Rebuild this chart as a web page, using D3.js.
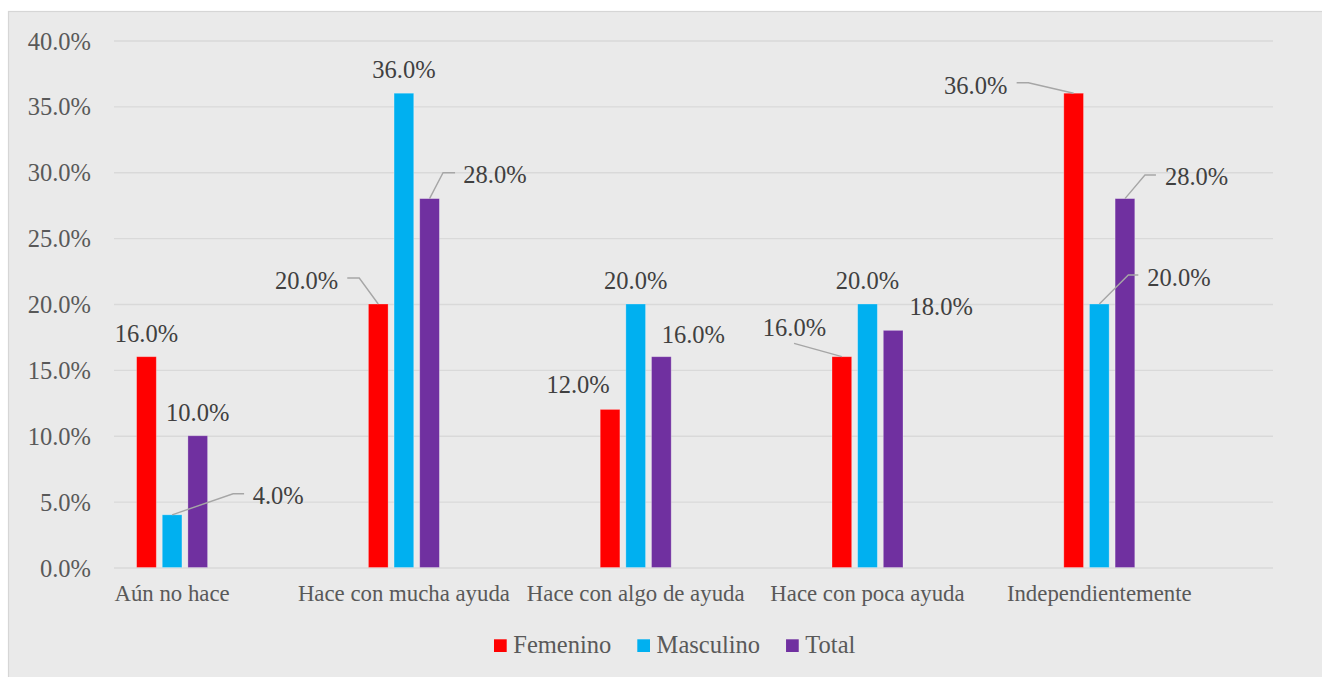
<!DOCTYPE html>
<html lang="es">
<head>
<meta charset="utf-8">
<title>Distribución por nivel de autonomía</title>
<script src="https://cdn.jsdelivr.net/npm/d3@7"></script>
<style>
  html, body { margin: 0; padding: 0; background: #ffffff; }
  svg { display: block; }
  text { font-family: "Liberation Serif", "Times New Roman", serif; }
</style>
</head>
<body>
<svg id="chart" width="1322" height="677"></svg>
<script>
// Categories and series values (share of children per level)
const categories = ["Aún no hace", "Hace con mucha ayuda", "Hace con algo de ayuda", "Hace con poca ayuda", "Independientemente"];
const seriesNames = ["Femenino", "Masculino", "Total"];
const femenino  = [0.16, 0.20, 0.12, 0.16, 0.36];
const masculino = [0.04, 0.36, 0.20, 0.20, 0.20];
const total     = [0.10, 0.28, 0.16, 0.18, 0.28];
const yTicks = [0, 0.05, 0.10, 0.15, 0.20, 0.25, 0.30, 0.35, 0.40];

const seriesValues = [femenino, masculino, total];
const colors = ["#ff0000", "#00b0f0", "#7030a0"];

const svg = d3.select("#chart");
const W = 1322, H = 677;
const plot = { left: 114, right: 1273, top: 40.5, bottom: 567.5 };
const fontSize = 24.5;
const catFontSize = 22.8;
const axisColor = "#595959";
const labelColor = "#404040";
const gridColor = "#d9d9d9";
const leaderColor = "#a6a6a6";

// chart area frame
svg.append("rect")
  .attr("x", 8.5).attr("y", 11.5)
  .attr("width", W).attr("height", H)
  .attr("fill", "#eaeaea")
  .attr("stroke", "#d6d6d6").attr("stroke-width", 1.2);

const x = d3.scaleBand().domain(categories).range([plot.left, plot.right]);
// clustered bars sit in the left part of each category slot
const groupStart = 22.6, groupWidth = 71.0;
const xs = d3.scaleBand().domain(seriesNames).range([groupStart, groupStart + groupWidth]).paddingInner(0.232);
const y = d3.scaleLinear().domain([0, 0.4]).range([plot.bottom, plot.top]);
const fmt = d3.format(".1%");

// gridlines + y tick labels
const yAxis = d3.axisLeft(y).tickValues(yTicks).tickFormat(fmt).tickSize(-(plot.right - plot.left)).tickPadding(23);
const gy = svg.append("g").attr("transform", `translate(${plot.left},0)`).call(yAxis);
gy.select(".domain").remove();
gy.selectAll(".tick line").attr("stroke", gridColor).attr("stroke-width", 1.4);
gy.selectAll(".tick text")
  .attr("fill", axisColor)
  .attr("font-size", fontSize)
  .attr("font-family", "Liberation Serif, serif")
  .attr("dy", null)
  .attr("y", 8.5);

// category labels, centred under each bar cluster
const groupCenter = c => x(c) + groupStart + groupWidth / 2;
svg.append("g").selectAll("text").data(categories).join("text")
  .attr("x", d => groupCenter(d))
  .attr("y", 601)
  .attr("text-anchor", "middle")
  .attr("fill", axisColor)
  .attr("font-size", catFontSize)
  .text(d => d);

// bars
const barData = [];
seriesNames.forEach((s, j) => {
  categories.forEach((c, i) => {
    barData.push({ s, j, c, i, v: seriesValues[j][i] });
  });
});
const barCx = d => x(d.c) + xs(d.s) + xs.bandwidth() / 2;

svg.append("g").selectAll("rect").data(barData).join("rect")
  .attr("x", d => x(d.c) + xs(d.s))
  .attr("y", d => y(d.v))
  .attr("width", xs.bandwidth())
  .attr("height", d => y(0) - y(d.v))
  .attr("fill", d => colors[d.j])
  .attr("stroke", "#ffffff").attr("stroke-opacity", 0.35).attr("stroke-width", 0.8);

// data label placement relative to the top centre of each bar:
// [dx, dy, anchor, leader points (relative) or null]
const labelPlacement = {
  "Femenino": [
    [0, -23, "middle", null],
    [-40, -24, "end", [[-31, -26], [-19, -26], [0, 0]]],
    [-32, -25.4, "middle", null],
    [-15.8, -29.7, "end", [[-47.8, -13.4], [0, 0]]],
    [-66.3, -8.2, "end", [[-57, -10.5], [-45.3, -10.5], [0, 0]]]
  ],
  "Masculino": [
    [80.6, -19, "start", [[0, 0], [61, -21], [72, -21]]],
    [0, -24, "middle", null],
    [0, -23.3, "middle", null],
    [0, -23.3, "middle", null],
    [48, -26.7, "start", [[0, 0], [29, -29], [39, -29]]]
  ],
  "Total": [
    [0, -23.7, "middle", null],
    [33.8, -24.6, "start", [[0, 0], [13.5, -25.9], [25.5, -25.9]]],
    [32, -22.7, "middle", null],
    [48, -24.3, "middle", null],
    [40, -21.9, "start", [[0, 0], [20, -23.6], [31, -23.6]]]
  ]
};

const gLab = svg.append("g");
barData.forEach(d => {
  const [dx, dy, anchor, leader] = labelPlacement[d.s][d.i];
  const bx = barCx(d), by = y(d.v);
  if (leader) {
    gLab.append("path")
      .attr("d", d3.line()(leader.map(p => [bx + p[0], by + p[1]])))
      .attr("fill", "none")
      .attr("stroke", leaderColor)
      .attr("stroke-width", 1.4);
  }
  gLab.append("text")
    .attr("x", bx + dx)
    .attr("y", by + dy + 8.5)
    .attr("text-anchor", anchor)
    .attr("fill", labelColor)
    .attr("font-size", fontSize)
    .text(fmt(d.v));
});

// legend
const legend = svg.append("g");
let lx = 494;
seriesNames.forEach((s, j) => {
  legend.append("rect")
    .attr("x", lx).attr("y", 639.3)
    .attr("width", 12.7).attr("height", 12.7)
    .attr("fill", colors[j]);
  const t = legend.append("text")
    .attr("x", lx + 19.3).attr("y", 653)
    .attr("fill", axisColor)
    .attr("font-size", fontSize)
    .text(s);
  lx += 19.3 + t.node().getComputedTextLength() + 26;
});
</script>
</body>
</html>
